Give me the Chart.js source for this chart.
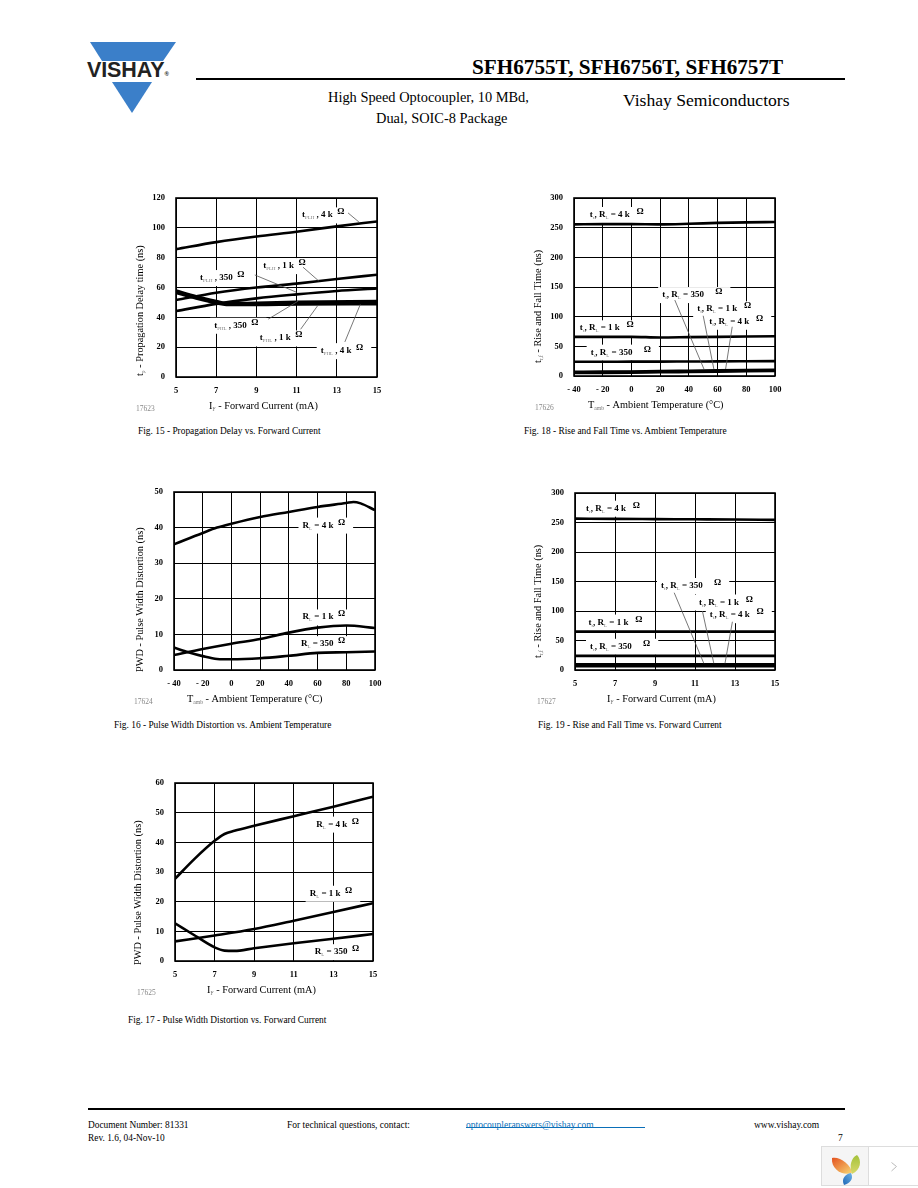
<!DOCTYPE html>
<html>
<head>
<meta charset="utf-8">
<title>SFH6755T, SFH6756T, SFH6757T</title>
<script src="https://cdn.jsdelivr.net/npm/chart.js@4/dist/chart.umd.min.js"></script>
<style>
    html, body { margin: 0; padding: 0; background: #fff; }
    #page { position: relative; width: 918px; height: 1188px; overflow: hidden; font-family: "Liberation Serif", serif; color: #000; }
    #page canvas { position: absolute; }
    .t { position: absolute; white-space: nowrap; line-height: 1; }
    .rule { position: absolute; background: #000; }
    .cap { font-size: 9.4px; }
</style>
</head>
<body>
<div id="page">
    <svg style="position:absolute;left:85px;top:38px" width="95" height="80">
        <polygon points="5,4 91,4 78,23 17,23" fill="#3b7fc9"/>
        <polygon points="27,44 67,44 47,75" fill="#3b7fc9"/>
    </svg>
    <div class="t" style="left:87px;top:60px;font:bold 21.5px 'Liberation Sans';line-height:1;letter-spacing:-0.1px;color:#222">VISHAY<span style="font-size:6px;vertical-align:1px">®</span></div>

    <div class="t" style="left:472px;top:57px;font-weight:bold;font-size:21.2px">SFH6755T, SFH6756T, SFH6757T</div>
    <div class="rule" style="left:196px;top:78px;width:649px;height:2px"></div>
    <div class="t" style="left:328px;top:90px;font-size:14.4px">High Speed Optocoupler, 10 MBd,</div>
    <div class="t" style="left:376px;top:111px;font-size:14.4px">Dual, SOIC-8 Package</div>
    <div class="t" style="left:623px;top:92px;font-size:17.6px">Vishay Semiconductors</div>

    <div class="t cap" style="left:138px;top:427px">Fig. 15 - Propagation Delay vs. Forward Current</div>
    <div class="t cap" style="left:524px;top:427px">Fig. 18 - Rise and Fall Time vs. Ambient Temperature</div>
    <div class="t cap" style="left:114px;top:721px">Fig. 16 - Pulse Width Distortion vs. Ambient Temperature</div>
    <div class="t cap" style="left:538px;top:721px">Fig. 19 - Rise and Fall Time vs. Forward Current</div>
    <div class="t cap" style="left:128px;top:1016px">Fig. 17 - Pulse Width Distortion vs. Forward Current</div>

    <div class="rule" style="left:88px;top:1108px;width:757px;height:2px"></div>
    <div class="t" style="left:88px;top:1121px;font-size:9.4px">Document Number: 81331</div>
    <div class="t" style="left:88px;top:1134px;font-size:9.4px">Rev. 1.6, 04-Nov-10</div>
    <div class="t" style="left:287px;top:1121px;font-size:9.5px">For technical questions, contact:</div>
    <div class="t" style="left:466px;top:1121px;font-size:9.5px;color:#0a6fb8">optocoupleranswers@vishay.com</div>
    <div class="rule" style="left:466px;top:1127px;width:179px;height:1px;background:#0a6fb8"></div>
    <div class="t" style="left:754px;top:1121px;font-size:9.5px">www.vishay.com</div>
    <div class="t" style="left:838px;top:1134px;font-size:9.5px">7</div>

    <svg style="position:absolute;left:821px;top:1146px" width="97" height="40">
        <defs>
            <linearGradient id="leafA" x1="0" y1="0" x2="1" y2="1">
                <stop offset="0" stop-color="#e4521f"/><stop offset="1" stop-color="#f7d774"/>
            </linearGradient>
            <linearGradient id="leafB" x1="0" y1="0" x2="0" y2="1">
                <stop offset="0" stop-color="#a4c23a"/><stop offset="1" stop-color="#d8d86a"/>
            </linearGradient>
            <linearGradient id="leafC" x1="1" y1="0" x2="0" y2="1">
                <stop offset="0" stop-color="#6db3e8"/><stop offset="1" stop-color="#1c66b5"/>
            </linearGradient>
        </defs>
        <rect x="0.5" y="0.5" width="100" height="39" fill="#fff" stroke="#ddd"/>
        <rect x="1" y="1" width="46" height="38" fill="#f5f5f5"/>
        <line x1="47.5" y1="0" x2="47.5" y2="40" stroke="#ddd"/>
        <path d="M11 12 C18 10 30 18 31 27 C22 30 10 24 11 12Z" fill="url(#leafA)"/>
        <path d="M36 9 C41 14 40 24 31 28 C28 20 30 12 36 9Z" fill="url(#leafB)"/>
        <path d="M30 27 C33 33 29 37 23 39 C20 33 24 28 30 27Z" fill="url(#leafC)"/>
        <polyline points="70.5,16.5 75.5,20.5 70.5,25" fill="none" stroke="#bbb"/>
    </svg>
</div>

<script>
const FONT = '"Liberation Serif"';

// axis ticks
const currentTicks = [5, 7, 9, 11, 13, 15];
const tempTicks = [-40, -20, 0, 20, 40, 60, 80, 100];
const delayTicks = [0, 20, 40, 60, 80, 100, 120];
const riseFallTicks = [0, 50, 100, 150, 200, 250, 300];
const pwdTempTicks = [0, 10, 20, 30, 40, 50];
const pwdCurrentTicks = [0, 10, 20, 30, 40, 50, 60];

// Fig. 15 - propagation delay vs forward current
const fig15Current = [5, 7, 9, 11, 13, 15];
const fig15PhlCurrent = [5, 6, 7, 7.5, 9, 11, 15];
const tPlh4k = [85.7, 90.4, 94.2, 97.4, 101, 104.3];
const tPlh1k = [51.6, 56.5, 60, 62.6, 65.7, 68.6];
const tPlh350 = [44.2, 49, 52.7, 55.4, 57.7, 59.4];
const tPhl4k = [56.4, 52.6, 49.4, 48.3, 48.3, 48.6, 48.8];
const tPhl1k = [57.2, 53.4, 50.2, 49, 49, 49.4, 49.8];
const tPhl350 = [58, 54.2, 51, 49.6, 49.8, 50.4, 51];

// Fig. 18 - rise and fall time vs ambient temperature
const fig18Temp = [-40, -20, 0, 20, 40, 60, 80, 100];
const tr4kTemp = [255.5, 256, 256, 255.5, 256.5, 258, 259, 259.5];
const tr1kTemp = [66, 66, 66, 65, 65.5, 66, 66.5, 67];
const tr350Temp = [24, 24, 24.2, 24.2, 24.5, 24.6, 24.8, 25];
const tf350Temp = [7, 7.3, 7.7, 8.2, 8.8, 9.4, 10, 10.6];
const tf1kTemp = [6, 6.3, 6.7, 7.2, 7.8, 8.4, 9, 9.6];
const tf4kTemp = [5, 5.3, 5.7, 6.2, 6.8, 7.4, 8, 8.6];

// Fig. 16 - pulse width distortion vs ambient temperature
const fig16Temp4k = [-40, -20, -10, 0, 20, 40, 60, 80, 85, 90, 100];
const fig16Temp1k = [-40, -20, 0, 20, 40, 60, 80, 100];
const fig16Temp350 = [-40, -30, -20, -10, 0, 20, 40, 60, 80, 100];
const pwd4kTemp = [35.3, 38.5, 40, 41.1, 43, 44.4, 45.8, 46.9, 47.2, 46.8, 44.9];
const pwd1kTemp = [4.2, 5.9, 7.4, 8.7, 10.5, 11.9, 12.5, 11.8];
const pwd350Temp = [6.3, 5, 3.9, 3.1, 3, 3.3, 4, 4.8, 5, 5.2];

// Fig. 19 - rise and fall time vs forward current
const fig19Current = [5, 7, 9, 11, 13, 15];
const tr4kCurrent = [256.5, 256.2, 255.8, 255.4, 255, 254.5];
const tr1kCurrent = [65, 65, 65, 65, 65, 65];
const tr350Current = [24, 24, 24, 24, 24, 24];
const tf350Current = [9.5, 9.5, 9.5, 9.5, 9.5, 9.5];
const tf1kCurrent = [8, 8, 8, 8, 8, 8];
const tf4kCurrent = [6.5, 6.5, 6.5, 6.5, 6.5, 6.5];

// Fig. 17 - pulse width distortion vs forward current
const fig17Current4k = [5, 6, 7, 7.5, 8, 9, 11, 13, 15];
const fig17Current1k = [5, 7, 9, 11, 13, 15];
const fig17Current350 = [5, 6, 7, 7.5, 8, 9, 11, 13, 15];
const pwd4kCurrent = [27.7, 34.5, 40.5, 42.8, 43.9, 45.6, 48.8, 52, 55.4];
const pwd1kCurrent = [6.6, 8.6, 10.8, 13.6, 16.5, 19.5];
const pwd350Current = [12.7, 8.6, 4.6, 3.5, 3.4, 4.3, 6, 7.5, 9.1];

function pts(xs, ys) {
    return xs.map((x, i) => ({ x: x, y: ys[i] }));
}

function line(xs, ys) {
    return {
        data: pts(xs, ys),
        borderColor: '#000',
        borderWidth: 2.6,
        pointRadius: 0,
        cubicInterpolationMode: 'monotone'
    };
}

// text with _{sub} and ^{sup} pieces, returns the width it took
function richText(ctx, str, x, y, size, weight, draw) {
    const parts = str.split(/(_\{.*?\}|\^\{.*?\})/).filter(p => p !== '');
    let w = 0;
    parts.forEach(p => {
        let txt = p, s = size, dy = 0, col = '#000', wgt = weight;
        if (p.startsWith('_{')) {
            txt = p.slice(2, -1); s = size * 0.55; dy = 2; col = '#777'; wgt = 'normal';
        } else if (p.startsWith('^{')) {
            txt = p.slice(2, -1); dy = -3;
        }
        ctx.font = wgt + ' ' + s + 'px ' + FONT;
        ctx.fillStyle = col;
        if (draw) ctx.fillText(txt, x + w, y + dy);
        w += ctx.measureText(txt).width;
    });
    return w;
}

function figure(spec) {
    const el = document.createElement('canvas');
    const left = spec.plot[0] - 58, top = spec.plot[1] - 12;
    const plotW = spec.plot[2] - spec.plot[0], plotH = spec.plot[3] - spec.plot[1];
    el.width = plotW + 58 + 18;
    el.height = plotH + 12 + 42;
    el.style.left = left + 'px';
    el.style.top = top + 'px';
    document.getElementById('page').appendChild(el);

    const notesPlugin = {
        id: 'figNotes',
        beforeDatasetsDraw(chart) {
            const ctx = chart.ctx, sx = chart.scales.x, sy = chart.scales.y;
            ctx.save();
            spec.notes.forEach(n => {
                const w = richText(ctx, n.text, 0, 0, 9, 'bold', false);
                ctx.fillStyle = '#fff';
                ctx.fillRect(sx.getPixelForValue(n.x) - 4, sy.getPixelForValue(n.y) - 10, w + 12, 16);
            });
            ctx.restore();
        },
        afterDatasetsDraw(chart) {
            const ctx = chart.ctx, sx = chart.scales.x, sy = chart.scales.y, a = chart.chartArea;
            ctx.save();
            ctx.strokeStyle = '#555';
            ctx.lineWidth = 0.8;
            (spec.leaders || []).forEach(l => {
                ctx.beginPath();
                ctx.moveTo(sx.getPixelForValue(l[0]), sy.getPixelForValue(l[1]));
                ctx.lineTo(sx.getPixelForValue(l[2]), sy.getPixelForValue(l[3]));
                ctx.stroke();
            });
            ctx.textBaseline = 'alphabetic';
            spec.notes.forEach(n => {
                richText(ctx, n.text, sx.getPixelForValue(n.x), sy.getPixelForValue(n.y), 9, 'bold', true);
            });

            // plot frame
            ctx.strokeStyle = '#000';
            ctx.lineWidth = 1.6;
            ctx.strokeRect(a.left, a.top, a.right - a.left, a.bottom - a.top);

            // axis titles and figure number
            richText(ctx, spec.xTitle, spec.xTitleLeft - left, spec.plot[3] - top + 32, 10.3, 'normal', true);
            ctx.font = '7.5px ' + FONT;
            ctx.fillStyle = '#888';
            ctx.fillText(spec.number, spec.numberLeft - left, spec.plot[3] - top + 34);
            ctx.translate(spec.yTitleX - left, spec.yTitleBottom - top);
            ctx.rotate(-Math.PI / 2);
            richText(ctx, spec.yTitle, 0, 0, 10.3, 'normal', true);
            ctx.restore();
        }
    };

    new Chart(el, {
        type: 'line',
        data: { datasets: spec.series },
        plugins: [notesPlugin],
        options: {
            responsive: false,
            animation: false,
            layout: { padding: { top: 12, right: 18, left: 0, bottom: 0 } },
            plugins: { legend: { display: false }, tooltip: { enabled: false } },
            scales: {
                x: {
                    type: 'linear',
                    min: spec.xTicks[0],
                    max: spec.xTicks[spec.xTicks.length - 1],
                    afterBuildTicks: s => { s.ticks = spec.xTicks.map(v => ({ value: v })); },
                    afterFit: s => { s.height = 42; s.paddingLeft = 0; s.paddingRight = 0; },
                    grid: { color: '#000', lineWidth: 1, drawTicks: false },
                    border: { display: false },
                    ticks: {
                        autoSkip: false,
                        maxRotation: 0,
                        padding: 9,
                        color: '#000',
                        font: { family: FONT, size: 8.5, weight: 'bold' },
                        callback: v => v < 0 ? '- ' + (-v) : '' + v
                    }
                },
                y: {
                    min: spec.yTicks[0],
                    max: spec.yTicks[spec.yTicks.length - 1],
                    afterBuildTicks: s => { s.ticks = spec.yTicks.map(v => ({ value: v })); },
                    afterFit: s => { s.width = 58; s.paddingTop = 0; s.paddingBottom = 0; },
                    grid: { color: '#000', lineWidth: 1, drawTicks: false },
                    border: { display: false },
                    ticks: {
                        autoSkip: false,
                        padding: 11,
                        color: '#000',
                        font: { family: FONT, size: 8.5, weight: 'bold' }
                    }
                }
            }
        }
    });
}

figure({
    plot: [176, 198, 377, 377],
    xTicks: currentTicks,
    yTicks: delayTicks,
    xTitle: 'I_{F} - Forward Current (mA)',
    xTitleLeft: 209,
    yTitle: 't_{p} - Propagation Delay time (ns)',
    yTitleX: 143,
    yTitleBottom: 376,
    number: '17623',
    numberLeft: 136,
    series: [
        line(fig15Current, tPlh4k),
        line(fig15Current, tPlh1k),
        line(fig15Current, tPlh350),
        line(fig15PhlCurrent, tPhl4k),
        line(fig15PhlCurrent, tPhl1k),
        line(fig15PhlCurrent, tPhl350)
    ],
    notes: [
        { x: 11.27, y: 107, text: 't_{PLH} , 4 k  ^{Ω}' },
        { x: 9.34, y: 73, text: 't_{PLH} , 1 k  ^{Ω}' },
        { x: 6.2, y: 65, text: 't_{PLH} , 350  ^{Ω}' },
        { x: 6.9, y: 33, text: 't_{PHL} , 350  ^{Ω}' },
        { x: 9.17, y: 24.5, text: 't_{PHL} , 1 k  ^{Ω}' },
        { x: 12.2, y: 16, text: 't_{PHL} , 4 k  ^{Ω}' }
    ],
    leaders: [
        [13.56, 110, 14.1, 103.9],
        [11.32, 73.6, 12.1, 64.4],
        [8.92, 68.4, 11, 56.8],
        [9.59, 38.8, 11.08, 50.9],
        [11.2, 32, 12.07, 48.2],
        [13.4, 23.5, 14.17, 48.7]
    ]
});

figure({
    plot: [574, 198, 775, 376],
    xTicks: tempTicks,
    yTicks: riseFallTicks,
    xTitle: 'T_{amb} - Ambient Temperature (°C)',
    xTitleLeft: 588,
    yTitle: 't_{r,f} - Rise and Fall Time (ns)',
    yTitleX: 541,
    yTitleBottom: 363,
    number: '17626',
    numberLeft: 535,
    series: [
        line(fig18Temp, tr4kTemp),
        line(fig18Temp, tr1kTemp),
        line(fig18Temp, tr350Temp),
        line(fig18Temp, tf350Temp),
        line(fig18Temp, tf1kTemp),
        line(fig18Temp, tf4kTemp)
    ],
    notes: [
        { x: -29, y: 268, text: 't_{r}, R_{L} = 4 k   ^{Ω}' },
        { x: -36, y: 77, text: 't_{r}, R_{L} = 1 k   ^{Ω}' },
        { x: -28.4, y: 36, text: 't_{r}, R_{L} = 350     ^{Ω}' },
        { x: 21.4, y: 133, text: 't_{f}, R_{L} = 350     ^{Ω}' },
        { x: 45.8, y: 109, text: 't_{f}, R_{L} = 1 k   ^{Ω}' },
        { x: 54.2, y: 88, text: 't_{f}, R_{L} = 4 k   ^{Ω}' }
    ],
    leaders: [
        [30.2, 128, 50.5, 11.8],
        [50, 101.5, 57.4, 11.8],
        [70.2, 83, 65.6, 11.8]
    ]
});

figure({
    plot: [174, 492, 375, 670],
    xTicks: tempTicks,
    yTicks: pwdTempTicks,
    xTitle: 'T_{amb} - Ambient Temperature (°C)',
    xTitleLeft: 187,
    yTitle: 'PWD - Pulse Width Distortion (ns)',
    yTitleX: 143,
    yTitleBottom: 672,
    number: '17624',
    numberLeft: 134,
    series: [
        line(fig16Temp4k, pwd4kTemp),
        line(fig16Temp1k, pwd1kTemp),
        line(fig16Temp350, pwd350Temp)
    ],
    notes: [
        { x: 49.5, y: 40, text: 'R_{L} = 4 k  ^{Ω}' },
        { x: 49.5, y: 14.2, text: 'R_{L} = 1 k  ^{Ω}' },
        { x: 48.4, y: 6.7, text: 'R_{L} = 350  ^{Ω}' }
    ]
});

figure({
    plot: [575, 493, 775, 670],
    xTicks: currentTicks,
    yTicks: riseFallTicks,
    xTitle: 'I_{F} - Forward Current (mA)',
    xTitleLeft: 607,
    yTitle: 't_{r,f} - Rise and Fall Time (ns)',
    yTitleX: 541,
    yTitleBottom: 658,
    number: '17627',
    numberLeft: 537,
    series: [
        line(fig19Current, tr4kCurrent),
        line(fig19Current, tr1kCurrent),
        line(fig19Current, tr350Current),
        line(fig19Current, tf350Current),
        line(fig19Current, tf1kCurrent),
        line(fig19Current, tf4kCurrent)
    ],
    notes: [
        { x: 5.55, y: 270, text: 't_{r}, R_{L} = 4 k   ^{Ω}' },
        { x: 5.67, y: 77, text: 't_{r}, R_{L} = 1 k   ^{Ω}' },
        { x: 5.75, y: 36, text: 't_{r}, R_{L} = 350     ^{Ω}' },
        { x: 9.3, y: 139, text: 't_{f}, R_{L} = 350     ^{Ω}' },
        { x: 11.2, y: 111, text: 't_{f}, R_{L} = 1 k   ^{Ω}' },
        { x: 11.74, y: 89.5, text: 't_{f}, R_{L} = 4 k   ^{Ω}' }
    ],
    leaders: [
        [9.96, 131, 11.44, 11.3],
        [11.37, 100, 11.94, 11.3],
        [12.87, 81.8, 12.5, 11.3]
    ]
});

figure({
    plot: [175, 783, 373, 961],
    xTicks: currentTicks,
    yTicks: pwdCurrentTicks,
    xTitle: 'I_{F} - Forward Current (mA)',
    xTitleLeft: 207,
    yTitle: 'PWD - Pulse Width Distortion (ns)',
    yTitleX: 141,
    yTitleBottom: 965,
    number: '17625',
    numberLeft: 137,
    series: [
        line(fig17Current4k, pwd4kCurrent),
        line(fig17Current1k, pwd1kCurrent),
        line(fig17Current350, pwd350Current)
    ],
    notes: [
        { x: 12.14, y: 45.3, text: 'R_{L} = 4 k  ^{Ω}' },
        { x: 11.8, y: 22, text: 'R_{L} = 1 k  ^{Ω}' },
        { x: 12.06, y: 2.3, text: 'R_{L} = 350  ^{Ω}' }
    ]
});
</script>
</body>
</html>
